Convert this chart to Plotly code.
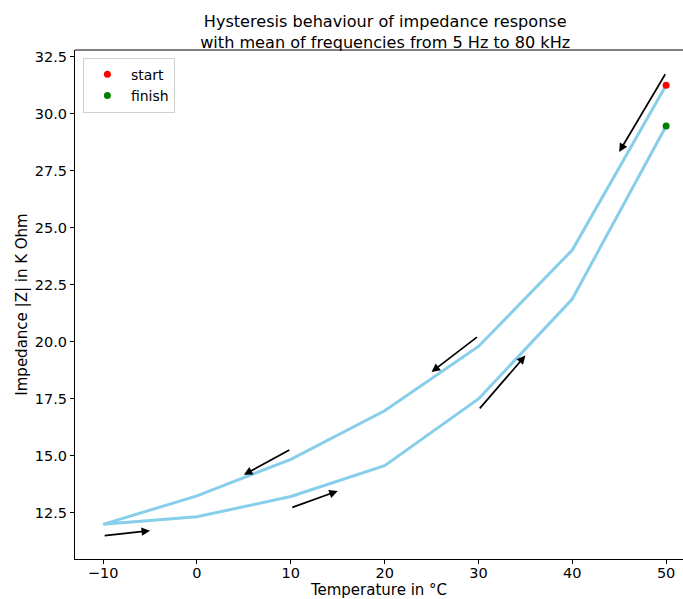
import plotly.graph_objects as go

# Data
temperature = [50, 40, 30, 20, 10, 0, -10, 0, 10, 20, 30, 40, 50]
impedance = [31.25, 24.03, 19.8, 16.98, 14.85, 13.25, 12.0, 12.33, 13.22, 14.57, 17.5, 21.88, 29.47]
start_point = (50, 31.25)
finish_point = (50, 29.47)
# arrows: (tail_x, tail_y, head_x, head_y)
arrow_tail_x = [50, 30, 10, -10, 10, 30]
arrow_tail_y = [31.8, 20.26, 15.3, 11.5, 12.72, 17.02]
arrow_head_x = [45, 25, 5, -5, 15, 35]
arrow_head_y = [28.33, 18.68, 14.17, 11.72, 13.46, 19.4]
x_ticks = [-10, 0, 10, 20, 30, 40, 50]
x_tick_labels = ["\u221210", "0", "10", "20", "30", "40", "50"]
y_ticks = [12.5, 15.0, 17.5, 20.0, 22.5, 25.0, 27.5, 30.0, 32.5]

FONT = "DejaVu Sans"

fig = go.Figure()
fig.add_trace(go.Scatter(x=temperature, y=impedance, mode="lines",
                         line=dict(color="#87CEEB", width=3), showlegend=False))
fig.add_trace(go.Scatter(x=[start_point[0]], y=[start_point[1]], mode="markers",
                         marker=dict(color="red", size=7), name="start"))
fig.add_trace(go.Scatter(x=[finish_point[0]], y=[finish_point[1]], mode="markers",
                         marker=dict(color="green", size=7), name="finish"))

for tx, ty, hx, hy in zip(arrow_tail_x, arrow_tail_y, arrow_head_x, arrow_head_y):
    fig.add_annotation(x=hx, y=hy, ax=tx, ay=ty, xref="x", yref="y", axref="x", ayref="y",
                       text="", showarrow=True, arrowhead=2, arrowsize=1, arrowwidth=1.7,
                       arrowcolor="black", standoff=0, startstandoff=0)

fig.update_layout(
    width=683, height=599,
    margin=dict(l=75, r=0, t=50, b=40),
    paper_bgcolor="white", plot_bgcolor="white",
    font=dict(family=FONT, size=14.5, color="black"),
    title=dict(text="Hysteresis behaviour of impedance response<br>with mean of frequencies from 5 Hz to 80 kHz",
               x=0.564, xanchor="center", y=1 - 27 / 599, yanchor="top", font=dict(size=16.1)),
    legend=dict(x=0.013, y=0.985, xanchor="left", yanchor="top", bgcolor="white",
                bordercolor="#d0d0d0", borderwidth=1, font=dict(size=14), itemwidth=37,
                tracegroupgap=0),
    xaxis=dict(range=[-13, 51.8], tickvals=x_ticks, ticktext=x_tick_labels,
               showgrid=False, zeroline=False, showline=True, linecolor="black", linewidth=1,
               ticks="outside", ticklen=4, tickcolor="black", automargin=False,
               ticklabelstandoff=-3,
               title=dict(text="Temperature in \u00b0C", font=dict(size=15), standoff=3)),
    yaxis=dict(range=[10.48, 32.8], tickvals=y_ticks, tickformat=".1f",
               showgrid=False, zeroline=False, showline=True, linecolor="black", linewidth=1,
               ticks="outside", ticklen=4, tickcolor="black", automargin=False,
               title=dict(text="Impedance |Z| in K Ohm", font=dict(size=15), standoff=3)),
)
fig.add_shape(type="line", xref="paper", yref="paper", x0=0, x1=1, y0=1, y1=1,
              line=dict(color="black", width=1))

fig.write_html("out.html", config={"displayModeBar": False},
               post_script="document.body.style.margin='0';document.body.style.overflow='hidden';")
